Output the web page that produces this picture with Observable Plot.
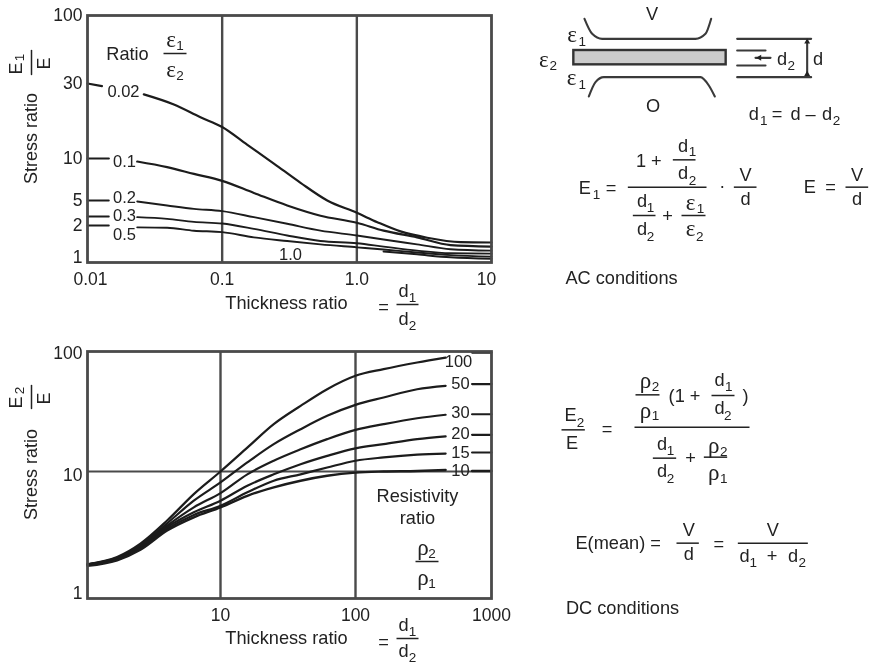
<!DOCTYPE html>
<html><head><meta charset="utf-8">
<script src="https://cdn.jsdelivr.net/npm/d3@7"></script>
<script src="https://cdn.jsdelivr.net/npm/@observablehq/plot@0.6"></script>
<style>
html,body{margin:0;padding:0;background:#fff}
#page{position:relative;width:873px;height:665px;overflow:hidden}
#page svg{position:absolute;left:0;background:transparent;filter:blur(0.35px)}
</style></head><body><div id="page"></div>
<script>
// ---------- AC chart values
const acX002 = [0.01,0.0128,0.019,0.0262,0.0438,0.069,0.1,0.153,0.242,0.382,0.603,1,1.42,2.11,3.33,5.9,10];
const ac002  = [30,29.3,null,27.1,24.4,21,18.4,13.7,9.4,7.1,5,3.46,2.37,1.84,1.67,1.55,1.54];
const acX    = [0.01,0.0144,0.019,0.0234,0.039,0.0617,0.1,0.172,0.304,0.537,1,1.58,2.8,4.96,10];
const ac01   = [10,10,null,9.64,8.97,8.17,7.34,5.9,4.38,3.1,2.3,1.86,1.68,1.47,1.43];
const ac02   = [5,5,null,4.87,4.38,3.96,3.67,2.93,2.19,1.86,1.73,1.62,1.49,1.36,1.32];
const ac03   = [3,3,null,2.93,2.74,2.4,2.22,1.91,1.73,1.58,1.52,1.43,1.32,1.25,1.24];
const ac05   = [2,2,null,1.95,1.94,1.86,1.82,1.68,1.58,1.49,1.41,1.35,1.27,1.2,1.16];
const acX10  = [1.58,2.8,4.96,10];
const ac10   = [1.3,1.22,1.14,1.1];
const acXTicks = [0.01,0.1,1,10];
const acXLabels = ["0.01","0.1","1.0","10"];
const acYTicks = [2,5,10,30,100];
// ---------- DC chart values
const dcX   = [1,1.67,2.5,3.97,6.3,10,15.8,24.8,39.2,61.7,100,161,284,460,590,720,1000];
const dc100 = [1.86,2.12,2.7,4.11,6.64,10,15.8,24.8,35.2,48.5,62.7,71.3,81,89,null,98,98];
const dc50  = [1.86,2.09,2.62,3.91,5.89,8.2,11.9,16.9,22.5,29.1,35.9,41.4,48.5,51.8,null,53.5,53.5];
const dc30  = [1.86,2.07,2.57,3.75,5.22,6.76,9.5,12.3,15.3,18.6,22.2,24.8,27.8,29.7,null,30,30];
const dc20  = [1.85,2.05,2.51,3.64,4.77,5.89,7.73,9.5,11.5,13.5,15.6,16.9,18.6,19.6,null,20.2,20.2];
const dc15  = [1.84,2.02,2.46,3.53,4.55,5.38,6.85,8.46,9.5,10.8,12.3,13.1,13.8,14.1,null,14.4,14.4];
const dc10  = [1.81,2,2.42,3.43,4.36,5.22,6.44,7.5,8.46,9.25,9.8,10,10.1,10.3,null,10.1,10.1];
const dcXTicks = [10,100,1000];

const ink = "#1c1c1c", frameInk = "#4a4a4a", font = "Liberation Sans, Arial, sans-serif";
const pts = (xs, ys) => xs.map((x, i) => ({x, y: ys[i]}));
const curve = (xs, ys, w = 2.2) => Plot.line(pts(xs, ys), {x: "x", y: "y", stroke: ink, strokeWidth: w, curve: "monotone-x"});
const tickAxis = (axis, ticks, o = {}) => axis({ticks, tickSize: 0, fontSize: 17.5, label: null, ...o});

// ---------- AC chart
const acPlot = Plot.plot({
  width: 520, height: 330, marginLeft: 87, marginRight: 29, marginTop: 15, marginBottom: 68,
  style: {fontFamily: font, color: "#222", background: "transparent", overflow: "visible"},
  x: {type: "log", domain: [0.01, 10], range: [87, 491]},
  y: {type: "linear", domain: [1, 2, 3, 5, 10, 30, 100], range: [262, 225, 216, 200, 158, 83, 15]},
  marks: [
    Plot.ruleX([0.1, 1], {stroke: frameInk, strokeWidth: 2.4}),
    curve(acX002, ac002), curve(acX, ac01), curve(acX, ac02, 1.9), curve(acX, ac03, 1.9), curve(acX, ac05, 1.9), curve(acX10, ac10, 2),
    Plot.frame({stroke: frameInk, strokeWidth: 2.8}),
    tickAxis(Plot.axisY, acYTicks, {anchor: "left", tickPadding: 5, tickFormat: String}),
    tickAxis(Plot.axisY, [1], {anchor: "left", tickPadding: 5, dy: -5, tickFormat: String}),
    tickAxis(Plot.axisX, acXTicks.slice(0, 1), {anchor: "bottom", tickPadding: 10, dx: 3, tickFormat: () => acXLabels[0]}),
    tickAxis(Plot.axisX, acXTicks.slice(1, 3), {anchor: "bottom", tickPadding: 10, tickFormat: d => acXLabels[acXTicks.indexOf(d)]}),
    tickAxis(Plot.axisX, [10], {anchor: "bottom", tickPadding: 10, dx: -5, tickFormat: String})
  ]
});

// ---------- DC chart
const dcPlot = Plot.plot({
  width: 520, height: 335, marginLeft: 87, marginRight: 29, marginTop: 21, marginBottom: 67,
  style: {fontFamily: font, color: "#222", background: "transparent", overflow: "visible"},
  x: {type: "log", domain: [1, 10, 100, 1000], range: [87, 220, 355, 491]},
  y: {type: "log", domain: [1, 10, 100], range: [268, 141, 21]},
  marks: [
    Plot.ruleX([10, 100], {stroke: frameInk, strokeWidth: 2.4}),
    Plot.ruleY([10], {stroke: frameInk, strokeWidth: 2.2}),
    curve(dcX, dc100), curve(dcX, dc50), curve(dcX, dc30), curve(dcX, dc20), curve(dcX, dc15), curve(dcX, dc10, 2.4),
    Plot.frame({stroke: frameInk, strokeWidth: 2.8}),
    tickAxis(Plot.axisY, [100], {anchor: "left", tickPadding: 5, dy: 2, tickFormat: String}),
    tickAxis(Plot.axisY, [10], {anchor: "left", tickPadding: 5, dy: 4, tickFormat: String}),
    tickAxis(Plot.axisY, [1], {anchor: "left", tickPadding: 5, dy: -5, tickFormat: String}),
    tickAxis(Plot.axisX, dcXTicks, {anchor: "bottom", tickPadding: 10, tickFormat: String})
  ]
});

// ---------- annotation layer: all page text and the field diagram, laid out in page pixels
const P2 = 330, RX = 520;                   // offsets of the lower row and of the right column
const plain = [], subs = [], greek = [], rotated = [], bars = [], wires = [], curveLabels = [];
const t = (s, x, y) => plain.push({s, x, y});
const u = (s, x, y) => subs.push({s, x, y});
const g = (s, x, y) => greek.push({s, x, y});
const b = (x1, x2, y) => bars.push({x1, x2, y1: y, y2: y});
const frac = (s1, n1, s2, n2, x1, x2, y, gap = 13, kind = t, below = gap) => {
  b(x1, x2, y);
  const c = (x1 + x2) / 2 - 4;
  kind(s1, c, y - gap); u(n1, c + 9, y - gap + 6);
  kind(s2, c, y + below + 2); u(n2, c + 9, y + below + 8);
};
const cl = (s, x, y) => curveLabels.push({s, x, y});
// AC chart text
t("Ratio", 127, 54);
frac("ε", "1", "ε", "2", 163, 186, 53, 14, g);
["0.02", "0.1", "0.2", "0.3", "0.5", "1.0"].forEach((s, i) => cl(s, [123, 124, 124, 124, 124, 290][i], [91, 161, 197, 215.5, 234, 254][i]));
t("Thickness ratio", 286, 303); t("=", 383, 307);
frac("d", "1", "d", "2", 396, 418, 304);
// DC chart text
["100", "50", "30", "20", "15", "10"].forEach((s, i) => cl(s, [458, 460, 460, 460, 460, 460][i], P2 + [31, 53, 82, 103.5, 122, 140.5][i]));
t("Resistivity", 417, P2 + 166); t("ratio", 417, P2 + 188);
frac("ρ", "2", "ρ", "1", 415, 438, P2 + 231, 14, g);
t("Thickness ratio", 286, P2 + 308); t("=", 383, P2 + 312);
frac("d", "1", "d", "2", 396, 418, P2 + 308, 13, t, 11);
// rotated y titles
rotated.push({s: "Stress ratio", x: 31, y: 138, f: 18}, {s: "E", x: 16, y: 68, f: 18}, {s: "1", x: 19, y: 57, f: 13.5}, {s: "E", x: 44, y: 63, f: 18});
rotated.push({s: "Stress ratio", x: 31, y: P2 + 144, f: 18}, {s: "E", x: 16, y: P2 + 72, f: 18}, {s: "2", x: 19, y: P2 + 60, f: 13.5}, {s: "E", x: 44, y: P2 + 68, f: 18});
wires.push({k: "b1", x: 31, y: 50}, {k: "b1", x: 31, y: 74}, {k: "b2", x: 31, y: P2 + 55}, {k: "b2", x: 31, y: P2 + 78});
// diagram and formulas
const r = (zx, zy) => ({x: RX + zx / 3, y: zy / 3});
const r2 = (zx, zy) => ({x: RX + zx / 3, y: P2 + zy / 3});
const rt = (s, zx, zy) => { const p = r(zx, zy); t(s, p.x, p.y); };
const ru = (s, zx, zy) => { const p = r(zx, zy); u(s, p.x, p.y); };
const rg = (s, zx, zy) => { const p = r(zx, zy); g(s, p.x, p.y); };
const rb = (a, c, zy) => b(RX + a / 3, RX + c / 3, zy / 3);
const qt = (s, zx, zy) => { const p = r2(zx, zy); t(s, p.x, p.y); };
const qu = (s, zx, zy) => { const p = r2(zx, zy); u(s, p.x, p.y); };
const qg = (s, zx, zy) => { const p = r2(zx, zy); g(s, p.x, p.y); };
const qb = (a, c, zy) => b(RX + a / 3, RX + c / 3, P2 + zy / 3);
rt("V", 395, 42); rt("O", 398, 318);
rg("ε", 155, 103); ru("1", 185, 125);
rg("ε", 70, 178); ru("2", 98, 195);
rg("ε", 153, 232); ru("1", 185, 253);
rt("d", 785, 177); ru("2", 812, 195); rt("d", 893, 175);
rt("d", 700, 340); ru("1", 730, 360); rt("=", 770, 340); rt("d", 825, 340); rt("–", 870, 340); rt("d", 920, 340); ru("2", 948, 360);
rt("E", 193, 562); ru("1", 228, 582); rt("=", 272, 562);
rt("1 +", 385, 483); rt("d", 488, 437); ru("1", 516, 455); rb(457, 525, 478); rt("d", 488, 518); ru("2", 516, 540);
rb(322, 558, 560);
rt("d", 365, 603); ru("1", 390, 622); rb(337, 405, 645); rt("d", 365, 685); ru("2", 390, 708);
rt("+", 441, 648);
rg("ε", 510, 605); ru("1", 540, 625); rb(483, 555, 645); rg("ε", 510, 685); ru("2", 538, 710);
rt("·", 605, 556); rt("V", 675, 525); rb(640, 708, 560); rt("d", 675, 595);
rt("E", 868, 560); rt("=", 930, 560); rt("V", 1010, 525); rb(975, 1043, 560); rt("d", 1010, 595);
rt("AC conditions", 303, 833);
qt("E", 150, 255); qu("2", 180, 278); qb(123, 193, 298); qt("E", 155, 337); qt("=", 260, 297);
qg("ρ", 375, 150); qu("2", 405, 168); qb(345, 417, 193); qg("ρ", 375, 240); qu("1", 405, 255);
qt("(1 +", 492, 197); qt("d", 597, 150); qu("1", 625, 168); qb(573, 642, 195); qt("d", 597, 233); qu("2", 622, 255); qt(")", 675, 197);
qb(342, 687, 290);
qt("d", 425, 342); qu("1", 450, 360); qb(397, 467, 383); qt("d", 425, 423); qu("2", 450, 445);
qt("+", 510, 382);
qg("ρ", 580, 345); qu("2", 610, 365); qb(550, 620, 380); qg("ρ", 580, 425); qu("1", 610, 445);
qt("E(mean) =", 293, 638); qt("V", 505, 600); qb(468, 535, 638); qt("d", 505, 672); qt("=", 595, 642);
qt("V", 757, 600); qb(652, 862, 638); qt("d", 672, 678); qu("1", 698, 697); qt("+", 755, 678); qt("d", 818, 678); qu("2", 845, 697);
qt("DC conditions", 306, 833);

const path = (name, zs) => zs.map(([a, c]) => ({...r(a, c), name}));
const diagram = [
  ...path("top", [[192,55],[215,100],[245,115],[525,115],[555,100],[572,55]]),
  ...path("bot", [[205,288],[225,245],[250,230],[540,230],[565,255],[583,288]]),
  ...path("w1", [[650,115],[872,115]]), ...path("w2", [[650,150],[735,150]]),
  ...path("w3", [[650,195],[735,195]]), ...path("w4", [[650,230],[872,230]]),
  ...path("d2", [[705,172],[750,172]]), ...path("dd", [[860,118],[860,227]])
];
const annotation = Plot.plot({
  width: 873, height: 665, margin: 0,
  style: {fontFamily: font, background: "transparent"},
  x: {type: "identity", axis: null}, y: {type: "identity", axis: null},
  marks: [
    Plot.rect([{...r(160, 150), x2: r(617, 150).x, y2: 193 / 3}], {x1: "x", y1: "y", x2: "x2", y2: "y2", fill: "#cccccc", stroke: "#333", strokeWidth: 2.4}),
    Plot.line(diagram, {x: "x", y: "y", z: "name", stroke: "#3a3a3a", strokeWidth: 2.1, curve: "monotone-x"}),
    Plot.dot([{...r(717, 172)}], {x: "x", y: "y", symbol: "triangle", r: 2.2, fill: "#222", rotate: -90}),
    Plot.dot([{...r(860, 124)}, {...r(860, 221)}], {x: "x", y: "y", symbol: "triangle", r: 2.2, fill: "#222"}),
    Plot.link(bars, {x1: "x1", x2: "x2", y1: "y1", y2: "y2", stroke: "#222", strokeWidth: 1.5}),
    Plot.line(wires, {x: "x", y: "y", z: "k", stroke: "#222", strokeWidth: 1.5}),
    Plot.text(plain, {x: "x", y: "y", text: "s", fontSize: 18.2, fill: "#222", lineAnchor: "middle"}),
    Plot.text(curveLabels, {x: "x", y: "y", text: "s", fontSize: 16.5, fill: "#222", lineAnchor: "middle"}),
    Plot.text(subs, {x: "x", y: "y", text: "s", fontSize: 13.5, fill: "#222", lineAnchor: "middle"}),
    Plot.text(greek, {x: "x", y: "y", text: "s", fontSize: 23, fontFamily: "Liberation Serif, serif", fill: "#222", lineAnchor: "middle"}),
    Plot.text(rotated, {x: "x", y: "y", text: "s", fontSize: "f", rotate: -90, fill: "#222", lineAnchor: "middle"})
  ]
});
const page = document.getElementById("page");
acPlot.style.top = "0px"; dcPlot.style.top = P2 + "px"; annotation.style.top = "0px";
annotation.style.pointerEvents = "none";
page.append(acPlot, dcPlot, annotation);
</script></body></html>
